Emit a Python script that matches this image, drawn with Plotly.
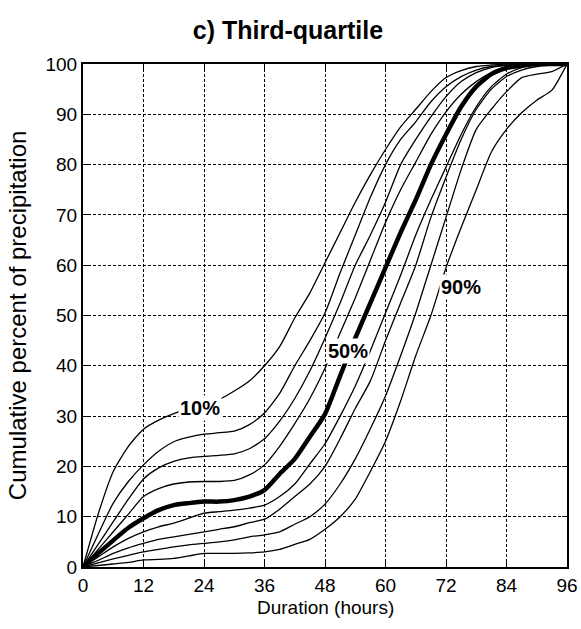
import plotly.graph_objects as go

# duration axis (hours), one sample every 3 h
hours = list(range(0, 97, 3))

# cumulative percent of precipitation for each percentile curve
p10 = [0, 10.5, 19, 24, 27.4, 29.2, 30.5, 31.5, 32.3, 33.3, 35, 37, 40, 43.8, 49.5, 54.5, 60.5,
       66.5, 72.5, 78, 83, 87.5, 91, 94.5, 97.3, 98.7, 99.5, 99.8, 100, 100, 100, 100, 100]
p20 = [0, 6.5, 12.7, 17, 20.3, 23, 24.9, 25.8, 26.4, 26.7, 27, 28.3, 30.6, 34.5, 40, 45, 50.5,
       58.5, 66, 73.5, 80, 85, 88.5, 92.5, 95.5, 97.5, 98.8, 99.5, 99.8, 100, 100, 100, 100]
p30 = [0, 4.5, 9, 13.5, 17.5, 19.7, 21, 21.7, 22, 22.2, 22.5, 23.5, 25.5, 29, 33.5, 39, 45.5,
       52.5, 60, 66, 72.5, 80, 85, 89.5, 93.5, 96.5, 98.3, 99.3, 99.7, 100, 100, 100, 100]
p40 = [0, 3.5, 7, 10.5, 14, 15.6, 16.5, 16.9, 17, 17, 17.2, 18.3, 20.3, 24, 28.5, 33.5, 39.5,
       46.5, 53.5, 61, 68.5, 75, 80.5, 86, 90.5, 94, 96.5, 98.3, 99.3, 99.7, 100, 100, 100]
p50 = [0, 2.7, 5.3, 7.8, 9.7, 11.3, 12.3, 12.7, 13, 13, 13.3, 14, 15.3, 18.5, 21.5, 25.9, 30.4,
       38, 45.5, 52.5, 59.5, 66.5, 73, 80, 86, 91.5, 95.5, 98, 99.2, 99.7, 100, 100, 100]
p60 = [0, 2, 4, 5.7, 7, 8, 8.7, 9.7, 10.7, 11, 11.3, 11.7, 12.3, 14, 16.5, 20.5, 24.5,
       30, 36, 43, 50.5, 58, 66, 73, 79.5, 86, 91.5, 95.5, 98, 99.3, 99.8, 100, 100]
p70 = [0, 1.3, 2.7, 3.8, 4.7, 5.5, 6, 6.5, 7, 7.5, 8, 8.8, 9.5, 11.5, 14, 16.5, 20,
       25.5, 31.5, 37, 45, 52.5, 60, 69.5, 77.5, 85, 91, 95, 97.5, 98.8, 99.5, 99.8, 100]
p80 = [0, 0.8, 1.6, 2.3, 3, 3.5, 4, 4.4, 4.7, 5, 5.4, 6, 6.4, 7, 8.5, 10, 12.5,
       16.5, 21.5, 27.5, 34, 42, 50.5, 60, 69.5, 79, 87, 91, 94.5, 97.3, 98, 98.5, 100]
p90 = [0, 0.3, 0.6, 0.9, 1.4, 1.5, 1.7, 2.2, 2.7, 2.7, 2.7, 2.8, 3, 3.5, 4.5, 5.5, 7.5,
       10, 13.5, 19, 25, 33, 42, 50, 59.5, 67.5, 75, 82.5, 87, 90.3, 92.8, 94.8, 100]

curves = {"10%": p10, "20%": p20, "30%": p30, "40%": p40, "50%": p50,
          "60%": p60, "70%": p70, "80%": p80, "90%": p90}

# labelled curves: (name, x, y) of the text box
labels = [("10%", 23.2, 31.7), ("50%", 52.5, 43), ("90%", 75, 55.7)]

font = "Arial, Liberation Sans, sans-serif"

fig = go.Figure()
for name, vals in curves.items():
    fig.add_trace(go.Scatter(x=hours, y=vals, mode="lines", name=name,
                             line=dict(color="black", width=4.5 if name == "50%" else 1.3,
                                       shape="spline", smoothing=0.6)))

for text, lx, ly in labels:
    fig.add_annotation(x=lx, y=ly, text="<b>" + text + "</b>", showarrow=False,
                       bgcolor="white", borderpad=1,
                       font=dict(family=font, size=20, color="black"))

# axis titles placed by hand
fig.add_annotation(xref="paper", yref="paper", x=0.5, y=-0.08, xanchor="center",
                   yanchor="middle", text="Duration (hours)", showarrow=False,
                   font=dict(family=font, size=19, color="black"))
fig.add_annotation(xref="paper", yref="paper", x=-0.134, y=0.501, xanchor="center",
                   yanchor="middle", textangle=-90,
                   text="Cumulative percent of precipitation", showarrow=False,
                   font=dict(family=font, size=24, color="black"))

axis_style = dict(showline=True, linecolor="black", linewidth=2, mirror="ticks",
                  ticks="inside", ticklen=5, tickcolor="black", automargin=False,
                  showgrid=True, gridcolor="black", gridwidth=1, griddash="3px,2px",
                  zeroline=False, tickfont=dict(family=font, size=19, color="black"))

fig.update_xaxes(range=[0, 96], tickvals=list(range(0, 97, 12)), **axis_style)
fig.update_yaxes(range=[0, 100], tickvals=list(range(0, 101, 10)), **axis_style)

fig.update_layout(
    width=581, height=629,
    margin=dict(l=83, r=14, t=64, b=62),
    paper_bgcolor="white", plot_bgcolor="white",
    showlegend=False,
    title=dict(text="<b>c) Third-quartile</b>", x=0.4957, xanchor="center",
               y=0.9523, yanchor="middle", font=dict(family=font, size=25, color="black")),
)

# drop the default 8px page margin so the figure fills the window
fig.write_html("out.html", config={"displayModeBar": False},
               post_script="document.body.style.margin='0';document.body.style.overflow='hidden';")
